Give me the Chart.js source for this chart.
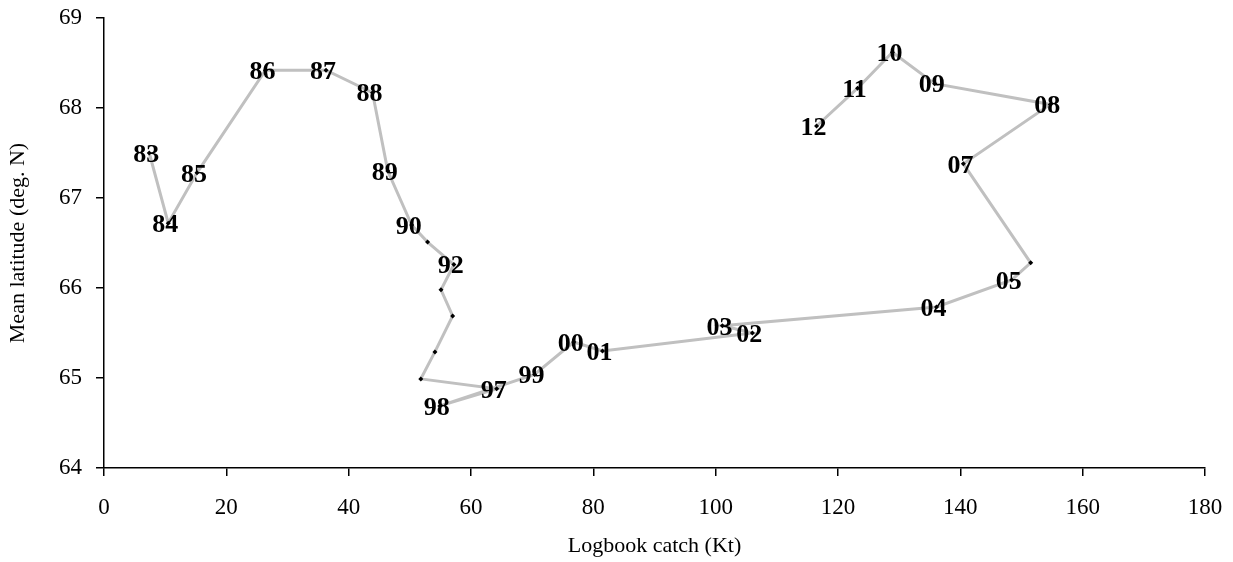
<!DOCTYPE html>
<html>
<head>
<meta charset="utf-8">
<script src="https://cdn.jsdelivr.net/npm/chart.js@4.4.1/dist/chart.umd.min.js"></script>
<style>
  html, body { margin: 0; padding: 0; background: #fff; }
  canvas { display: block; }
</style>
</head>
<body>
<canvas id="track" width="1233" height="562"></canvas>
<script>
// Année (étiquette), capture (Kt) et latitude moyenne
const years = ["83", "84", "85", "86", "87", "88", "89", "90", "", "92",
  "", "", "", "", "97", "98", "99", "00", "01", "02",
  "03", "04", "05", "", "07", "08", "09", "10", "11", "12"];
const catchKt = [7.4, 10.5, 15.2, 26.4, 36.3, 43.9, 46.4, 50.3, 52.9, 57.2,
  55.1, 57.0, 54.1, 51.8, 64.2, 54.9, 70.4, 76.8, 81.5, 106.0,
  101.1, 136.1, 148.4, 151.5, 140.5, 154.7, 135.8, 128.9, 123.2, 116.5];
const latitude = [67.50, 66.72, 67.28, 68.42, 68.42, 68.17, 67.30, 66.70, 66.51, 66.26,
  65.98, 65.69, 65.29, 64.99, 64.88, 64.69, 65.04, 65.40, 65.30, 65.50,
  65.58, 65.79, 66.09, 66.28, 67.38, 68.04, 68.27, 68.62, 68.22, 67.80];

const serif = '"Liberation Serif", "Times New Roman", serif';

// Vẽ nhãn năm lên từng điểm
const yearLabels = {
  id: "yearLabels",
  afterDatasetsDraw(chart) {
    const ctx = chart.ctx;
    const meta = chart.getDatasetMeta(0);
    ctx.save();
    ctx.font = "bold 26px " + serif;
    ctx.fillStyle = "#000";
    ctx.textAlign = "center";
    ctx.textBaseline = "middle";
    meta.data.forEach((pt, i) => {
      if (years[i]) ctx.fillText(years[i], pt.x - 3, pt.y + 2);
    });
    ctx.restore();
  },
};

const points = catchKt.map((x, i) => ({ x: x, y: latitude[i] }));

new Chart(document.getElementById("track"), {
  type: "scatter",
  data: {
    datasets: [
      {
        data: points,
        showLine: true,
        borderColor: "#c0c0c0",
        borderWidth: 3,
        pointStyle: "rectRot",
        pointRadius: 2.5,
        pointBackgroundColor: "#000",
        pointBorderWidth: 0,
      },
    ],
  },
  options: {
    responsive: false,
    animation: false,
    devicePixelRatio: 1,
    layout: { padding: { top: 18, right: 28, left: 0, bottom: 0 } },
    plugins: { legend: { display: false }, tooltip: { enabled: false } },
    scales: {
      x: {
        type: "linear",
        min: 0,
        max: 180,
        ticks: { stepSize: 20, color: "#000", font: { family: serif, size: 23 }, padding: 18 },
        grid: { drawOnChartArea: false, tickLength: 8, color: "#000", lineWidth: 1.5 },
        border: { color: "#000", width: 1.5 },
        title: { display: true, text: "Logbook catch (Kt)", color: "#000", font: { family: serif, size: 22 }, padding: { top: 4, bottom: 3 } },
        afterFit(scale) {
          scale.height = 94;
          scale.paddingLeft = 0;
          scale.paddingRight = 0;
        },
      },
      y: {
        min: 64,
        max: 69,
        ticks: { stepSize: 1, color: "#000", font: { family: serif, size: 23 }, padding: 14 },
        grid: { drawOnChartArea: false, tickLength: 8, color: "#000", lineWidth: 1.5 },
        border: { color: "#000", width: 1.5 },
        title: { display: true, text: "Mean latitude (deg. N)", color: "#000", font: { family: serif, size: 22 }, padding: { top: 5, bottom: 4 } },
        afterFit(scale) {
          scale.width = 104;
          scale.paddingTop = 0;
          scale.paddingBottom = 0;
        },
      },
    },
  },
  plugins: [yearLabels],
});
</script>
</body>
</html>
